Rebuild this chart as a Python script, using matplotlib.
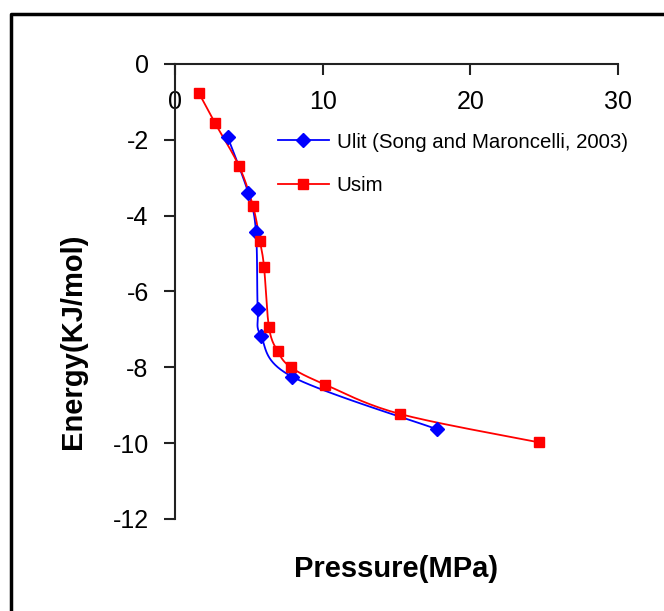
import numpy as np
import matplotlib.pyplot as plt
from matplotlib.lines import Line2D

plt.rcParams['font.family'] = ['Liberation Sans', 'DejaVu Sans']
plt.rcParams['axes.unicode_minus'] = False

# literature values (Song and Maroncelli, 2003)
p_lit = [3.57, 4.96, 5.48, 5.60, 5.82, 7.94, 17.72]
u_lit = [-1.93, -3.40, -4.42, -6.46, -7.18, -8.25, -9.63]

# simulated values
p_sim = [1.62, 2.71, 4.33, 5.28, 5.75, 6.03, 6.36, 6.94, 7.85, 10.19, 15.23, 24.66]
u_sim = [-0.77, -1.56, -2.69, -3.75, -4.67, -5.36, -6.94, -7.57, -8.00, -8.46, -9.23, -9.98]

xticks = [0, 10, 20, 30]
yticks = [0, -2, -4, -6, -8, -10, -12]


def smooth(ax, xs, ys, n=20):
    # excel style smoothed line: bezier segments, done in screen space
    pts = ax.transData.transform(np.column_stack([xs, ys]))
    pts = np.vstack([pts[0], pts, pts[-1]])
    out = []
    t = np.linspace(0, 1, n)[:, None]
    for i in range(1, len(pts) - 2):
        p0, p1, p2, p3 = pts[i - 1], pts[i], pts[i + 1], pts[i + 2]
        c1 = p1 + (p2 - p0) / 6
        c2 = p2 - (p3 - p1) / 6
        seg = ((1 - t) ** 3) * p1 + 3 * ((1 - t) ** 2) * t * c1 + 3 * (1 - t) * t ** 2 * c2 + t ** 3 * p2
        out.append(seg)
    out = np.vstack(out)
    d = ax.transData.inverted().transform(out)
    return d[:, 0], d[:, 1]


fig = plt.figure(figsize=(6.64, 6.11), dpi=100)
ax = fig.add_axes([0.2636, 0.1506, 0.6671, 0.7447])
ax.set_xlim(0, 30)
ax.set_ylim(-12, 0)

sx, sy = smooth(ax, p_lit, u_lit)
ax.plot(sx, sy, color='#0000FF', lw=1.3, zorder=3)
ax.plot(p_lit, u_lit, ls='none', marker='D', ms=7, color='#0000FF', zorder=4)

sx, sy = smooth(ax, p_sim, u_sim)
ax.plot(sx, sy, color='#FF0000', lw=1.3, zorder=3)
ax.plot(p_sim, u_sim, ls='none', marker='s', ms=7.5, color='#FF0000', zorder=4)

# legend entries
h_lit = Line2D([], [], color='#0000FF', lw=1.3, marker='D', ms=7)
h_sim = Line2D([], [], color='#FF0000', lw=1.3, marker='s', ms=7.5)
ax.legend([h_lit, h_sim], ['Ulit (Song and Maroncelli, 2003)', 'Usim'],
          loc='upper left', bbox_to_anchor=(0.418, 0.783), bbox_transform=fig.transFigure,
          frameon=False, fontsize=14.7, handlelength=2.5, handletextpad=0.4,
          labelspacing=1.2, borderpad=0, borderaxespad=0)

# x axis crosses at y = 0
ax.spines['top'].set_visible(False)
ax.spines['right'].set_visible(False)
ax.spines['bottom'].set_position(('data', 0))
for s in ['left', 'bottom']:
    ax.spines[s].set_color('#222222')
    ax.spines[s].set_linewidth(1.5)

ax.set_xticks(xticks)
ax.set_yticks(yticks)
ax.tick_params(axis='x', direction='out', length=8, width=1.5, color='#222222', pad=11, labelsize=18)
ax.tick_params(axis='y', direction='out', length=8, width=1.5, color='#222222', pad=11, labelsize=18)

ax.set_xlabel('Pressure(MPa)', fontsize=21, fontweight='bold')
ax.set_ylabel('Energy(KJ/mol)', fontsize=21, fontweight='bold')
ax.xaxis.set_label_coords(0.499, -0.08)
ax.yaxis.set_label_coords(-0.199, 0.391)

# outer frame (left and top edges only)
fx, fy = 11 / 664, 1 - 14 / 611
fig.add_artist(Line2D([fx, fx, 1.0], [0.0, fy, fy], color='black', lw=2.5,
                      transform=fig.transFigure))

fig.savefig('out.png', dpi=100)
